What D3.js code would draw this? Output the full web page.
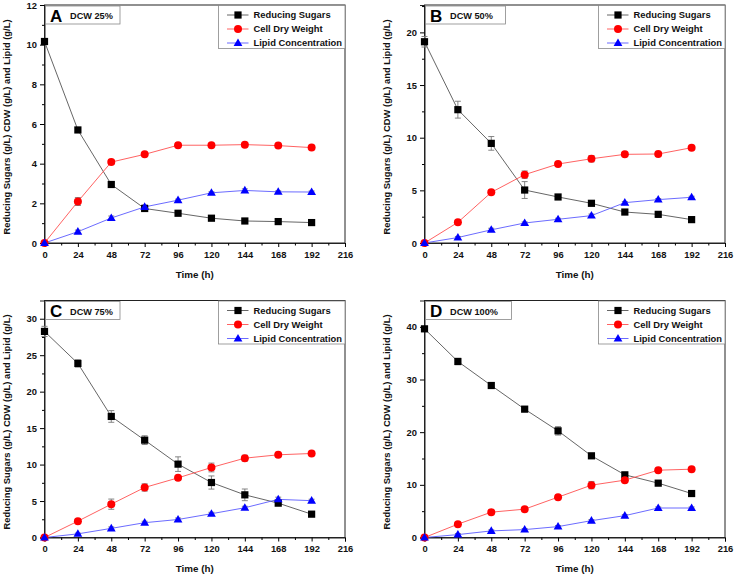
<!DOCTYPE html>
<html><head><meta charset="utf-8">
<script src="https://cdn.jsdelivr.net/npm/d3@7"></script>
<style>
html,body{margin:0;padding:0;background:#fff;}
svg{display:block;font-family:"Liberation Sans",Arial,sans-serif;font-weight:bold;}
</style></head>
<body>
<svg id="chart" width="734" height="574"></svg>
<script>
// ---- data ----
const timeH = [0, 24, 48, 72, 96, 120, 144, 168, 192];
const xTicks = [0, 24, 48, 72, 96, 120, 144, 168, 192, 216];
const seriesNames = ["Reducing Sugars", "Cell Dry Weight", "Lipid Concentration"];
const panelLetters = ["A", "B", "C", "D"];
const panelTitles = ["DCW 25%", "DCW 50%", "DCW 75%", "DCW 100%"];

const sugarsA = [10.16, 5.70, 2.95, 1.74, 1.50, 1.25, 1.11, 1.08, 1.03];
const cdwA    = [0, 2.09, 4.08, 4.47, 4.93, 4.93, 4.96, 4.91, 4.81];
const lipidA  = [0, 0.57, 1.26, 1.82, 2.16, 2.53, 2.65, 2.58, 2.57];
const sugarsErrA = [0.15, 0.1, 0.1, 0.1, 0.05, 0.05, 0.05, 0.05, 0.05];
const cdwErrA    = [0, 0.2, 0.1, 0.05, 0.05, 0.05, 0.05, 0.05, 0.05];
const lipidErrA  = [0, 0.08, 0.1, 0.1, 0.05, 0.05, 0.08, 0.05, 0.05];

const sugarsB = [19.11, 12.66, 9.46, 5.03, 4.37, 3.77, 2.94, 2.72, 2.22];
const cdwB    = [0, 1.96, 4.81, 6.49, 7.50, 8.00, 8.42, 8.45, 9.05];
const lipidB  = [0, 0.52, 1.25, 1.90, 2.25, 2.60, 3.83, 4.12, 4.34];
const sugarsErrB = [0.5, 0.8, 0.65, 0.8, 0.2, 0.1, 0.1, 0.1, 0.1];
const cdwErrB    = [0, 0.1, 0.15, 0.35, 0.15, 0.3, 0.15, 0.1, 0.1];
const lipidErrB  = [0, 0.1, 0.15, 0.1, 0.1, 0.15, 0.1, 0.1, 0.1];

const sugarsC = [28.26, 23.87, 16.60, 13.35, 10.06, 7.54, 5.85, 4.71, 3.20];
const cdwC    = [0, 2.24, 4.57, 6.86, 8.18, 9.60, 10.88, 11.34, 11.52];
const lipidC  = [0, 0.50, 1.25, 2.03, 2.47, 3.26, 4.08, 5.23, 5.05];
const sugarsErrC = [0.7, 0.5, 0.8, 0.6, 1.0, 0.9, 0.8, 0.2, 0.2];
const cdwErrC    = [0, 0.2, 0.7, 0.5, 0.3, 0.6, 0.4, 0.2, 0.2];
const lipidErrC  = [0, 0.1, 0.2, 0.2, 0.2, 0.2, 0.2, 0.3, 0.2];

const sugarsD = [39.62, 33.42, 28.86, 24.37, 20.25, 15.51, 11.90, 10.32, 8.35];
const cdwD    = [0, 2.53, 4.81, 5.38, 7.66, 9.94, 10.89, 12.78, 12.97];
const lipidD  = [0, 0.55, 1.25, 1.50, 2.07, 3.20, 4.15, 5.60, 5.60];
const sugarsErrD = [0.4, 0.6, 0.3, 0.3, 0.8, 0.3, 0.3, 0.3, 0.3];
const cdwErrD    = [0, 0.2, 0.2, 0.2, 0.3, 0.7, 0.3, 0.3, 0.3];
const lipidErrD  = [0, 0.2, 0.2, 0.2, 0.2, 0.2, 0.2, 0.2, 0.2];

const yMaxes = [12, 22.6, 32.5, 45];
const yMajor = [2, 5, 5, 10];
const yTitle = "Reducing Sugars (g/L) CDW (g/L) and Lipid (g/L)";

// ---- layout ----
const panels = [
  {left: 44.5, right: 345, top: 5, bottom: 243, s: sugarsA, c: cdwA, l: lipidA, se: sugarsErrA, ce: cdwErrA, le: lipidErrA},
  {left: 424.5, right: 725, top: 5, bottom: 243, s: sugarsB, c: cdwB, l: lipidB, se: sugarsErrB, ce: cdwErrB, le: lipidErrB},
  {left: 44.5, right: 345, top: 300.5, bottom: 537.5, s: sugarsC, c: cdwC, l: lipidC, se: sugarsErrC, ce: cdwErrC, le: lipidErrC},
  {left: 424.5, right: 725, top: 300.5, bottom: 537.5, s: sugarsD, c: cdwD, l: lipidD, se: sugarsErrD, ce: cdwErrD, le: lipidErrD}
];
const markerColors = ["#000000", "#ff0000", "#0000ff"];
const lineColors = ["#555555", "#ff5050", "#5a5aff"];

const svg = d3.select("#chart");

function marker(g, kind, x, y, color) {
  if (kind === 0) {
    g.append("rect").attr("x", x - 3.6).attr("y", y - 3.6).attr("width", 7.2).attr("height", 7.2).attr("fill", color);
  } else if (kind === 1) {
    g.append("circle").attr("cx", x).attr("cy", y).attr("r", 4).attr("fill", color);
  } else {
    g.append("path").attr("d", `M${x},${y-4.6}L${x+4.4},${y+3}L${x-4.4},${y+3}Z`).attr("fill", color);
  }
}

panels.forEach((p, i) => {
  const x = d3.scaleLinear().domain([0, 216]).range([p.left, p.right]);
  const y = d3.scaleLinear().domain([0, yMaxes[i]]).range([p.bottom, p.top]);
  const g = svg.append("g");

  // frame
  g.append("rect").attr("x", p.left).attr("y", p.top).attr("width", p.right - p.left).attr("height", p.bottom - p.top)
    .attr("fill", "none").attr("stroke", "#222").attr("stroke-width", 1);

  // x axis
  const xMinor = d3.range(12, 216, 24);
  const xa = g.append("g").attr("transform", `translate(0,${p.bottom})`)
    .call(d3.axisBottom(x).tickValues(xTicks).tickSize(4).tickPadding(4).tickFormat(d3.format("d")));
  xa.select(".domain").attr("stroke", "#222");
  xa.selectAll("text").attr("font-size", 9.4).attr("font-weight", "bold").attr("font-family", "Liberation Sans, Arial, sans-serif").attr("fill", "#111");
  g.append("g").attr("transform", `translate(0,${p.bottom})`)
    .call(d3.axisBottom(x).tickValues(xMinor).tickSize(2.5).tickFormat(""))
    .select(".domain").remove();

  // y axis
  const yMaj = d3.range(0, yMaxes[i] + 1e-9, yMajor[i]);
  const yMin = d3.range(yMajor[i] / 2, yMaxes[i], yMajor[i]);
  const ya = g.append("g").attr("transform", `translate(${p.left},0)`)
    .call(d3.axisLeft(y).tickValues(yMaj).tickSize(4.5).tickPadding(3).tickFormat(d3.format("d")));
  ya.select(".domain").attr("stroke", "#222");
  ya.selectAll("text").attr("font-size", 9.4).attr("font-weight", "bold").attr("font-family", "Liberation Sans, Arial, sans-serif").attr("fill", "#111");
  g.append("g").attr("transform", `translate(${p.left},0)`)
    .call(d3.axisLeft(y).tickValues(yMin).tickSize(2.5).tickFormat(""))
    .select(".domain").remove();

  // axis titles
  g.append("text").attr("x", (p.left + p.right) / 2).attr("y", p.bottom + 34.5)
    .attr("text-anchor", "middle").attr("font-size", 9.8).attr("fill", "#111").text("Time (h)");
  const yc = (p.top + p.bottom) / 2 + 3;
  g.append("text").attr("transform", `translate(${p.left - 34.5},${yc}) rotate(-90)`)
    .attr("text-anchor", "middle").attr("font-size", 9.4).attr("fill", "#111").text(yTitle);

  // series
  const data = [[p.s, p.se], [p.c, p.ce], [p.l, p.le]];
  const line = d3.line().x((d, k) => x(timeH[k])).y(d => y(d));
  data.forEach(([vals, errs], k) => {
    g.append("path").attr("d", line(vals)).attr("fill", "none").attr("stroke", lineColors[k]).attr("stroke-width", 0.9);
  });
  data.forEach(([vals, errs], k) => {
    vals.forEach((v, j) => {
      const e = errs[j];
      if (e > 0) {
        const cx = x(timeH[j]);
        g.append("path").attr("d", `M${cx},${y(v - e)}V${y(v + e)}M${cx - 3},${y(v - e)}H${cx + 3}M${cx - 3},${y(v + e)}H${cx + 3}`)
          .attr("stroke", "#777").attr("stroke-width", 0.9).attr("fill", "none");
      }
    });
  });
  data.forEach(([vals, errs], k) => {
    vals.forEach((v, j) => marker(g, k, x(timeH[j]), y(v), markerColors[k]));
  });

  // panel label box
  const lbW = i === 3 ? 86 : (i === 0 || i === 2 ? 74.5 : 80);
  g.append("rect").attr("x", p.left + 1).attr("y", p.top + 1).attr("width", lbW).attr("height", 18)
    .attr("fill", "#fff").attr("stroke", "#888").attr("stroke-width", 0.8);
  g.append("text").attr("x", p.left + 5.5).attr("y", p.top + 16.5).attr("font-size", 17).attr("fill", "#000").text(panelLetters[i]);
  g.append("text").attr("x", p.left + 25.5).attr("y", p.top + 14).attr("font-size", 9.2).attr("fill", "#111").text(panelTitles[i]);

  // legend
  const lgW = 126.5, lgH = 43;
  const lx = p.right - lgW, ly = p.top + 0.5;
  g.append("rect").attr("x", lx).attr("y", ly).attr("width", lgW).attr("height", lgH)
    .attr("fill", "#fff").attr("stroke", "#888").attr("stroke-width", 0.8);
  seriesNames.forEach((name, k) => {
    const yy = ly + 9.5 + k * 14;
    g.append("line").attr("x1", lx + 8.5).attr("x2", lx + 30).attr("y1", yy).attr("y2", yy)
      .attr("stroke", lineColors[k]).attr("stroke-width", 0.9);
    marker(g, k, lx + 19.5, yy, markerColors[k]);
    g.append("text").attr("x", lx + 35).attr("y", yy + 3.4).attr("font-size", 9.4).attr("fill", "#111").text(name);
  });
});
</script>
</body></html>
